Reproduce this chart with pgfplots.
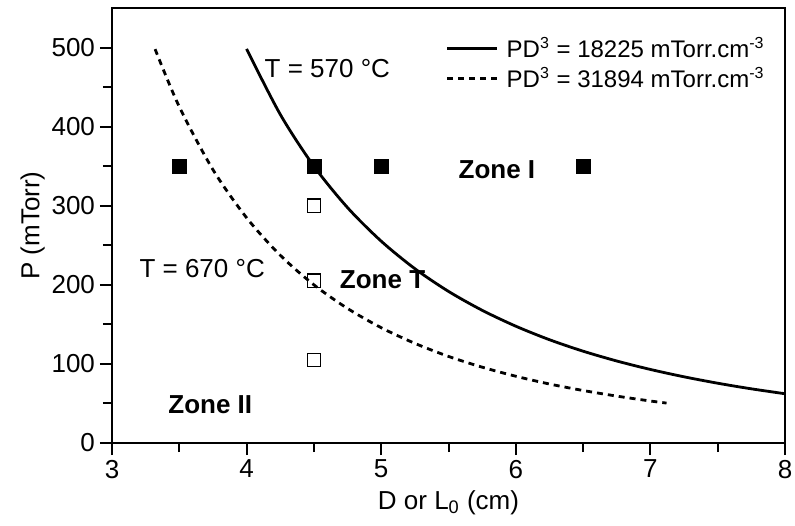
\documentclass[border=0pt]{standalone}
\usepackage{pgfplots}
\pgfplotsset{compat=1.18}
\usepackage{fontspec}
\setmainfont{Liberation Sans}

% Solid curve: PD^3 = 31894 (values in mTorr, D in cm)
\pgfplotstableread{
D     P
4.00  498.3
4.25  415.5
4.50  350.0
4.75  297.6
5.00  255.2
5.25  220.4
5.50  191.7
5.75  167.8
6.00  147.7
6.25  130.6
6.50  116.1
6.75  103.7
7.00  93.0
7.25  83.7
7.50  75.6
7.75  68.5
8.00  62.3
}\curveA
% Dashed curve: PD^3 = 18225
\pgfplotstableread{
D     P
3.32  498.0
3.50  425.1
3.75  345.6
4.00  284.8
4.25  237.4
4.50  200.0
4.75  170.1
5.00  145.8
5.25  126.0
5.50  109.5
5.75  95.9
6.00  84.4
6.25  74.6
6.50  66.4
6.75  59.3
7.00  53.1
7.12  50.5
}\curveB

\newcommand\lbl{\fontsize{13}{15}\selectfont}

\begin{document}
\begin{tikzpicture}
\useasboundingbox (-56pt,-41pt) rectangle (341.5pt,221.5pt);
\begin{axis}[
  scale only axis, width=336.5pt, height=217.5pt,
  xmin=3, xmax=8, ymin=0, ymax=550,
  xtick={3,4,5,6,7,8}, ytick={0,100,200,300,400,500},
  minor xtick={3.5,4.5,5.5,6.5,7.5},
  minor ytick={50,150,250,350,450},
  tick align=outside, major tick length=6pt, minor tick length=4.5pt,
  xtick pos=bottom, ytick pos=left,
  axis line style={line width=1pt},
  every tick/.style={black, line width=1pt},
  /pgf/number format/assume math mode=true,
  tick label style={font=\lbl},
  xticklabel style={yshift=1pt},
  yticklabel style={xshift=1pt},
  xlabel={D or L\textsubscript{0} (cm)},
  ylabel={P (mTorr)},
  every axis x label/.style={at={(axis description cs:0.5,-0.137)}, anchor=center, font=\lbl},
  every axis y label/.style={at={(axis description cs:-0.118,0.5)}, rotate=90, anchor=center, font=\lbl},
  legend style={draw=none, fill=none, at={(axis description cs:1,1)}, anchor=north east,
    xshift=-5pt, yshift=-10.5pt, font=\fontsize{12}{14}\selectfont, row sep=-0.5pt},
  legend image code/.code={\draw[#1] (-1pt,0pt) -- (24pt,0pt);},
  legend cell align=left,
]
\addplot[black, line width=1.4pt, smooth] table[x=D, y=P] {\curveA};
\addlegendentry{\hspace{2pt}PD\textsuperscript{3} = 18225 mTorr.cm\textsuperscript{-3}}
\addplot[black, line width=1.4pt, smooth, dash pattern=on 3pt off 2.5pt] table[x=D, y=P] {\curveB};
\addlegendentry{\hspace{2pt}PD\textsuperscript{3} = 31894 mTorr.cm\textsuperscript{-3}}

% Deposition conditions
\addplot[only marks, mark=square*, mark size=3.5pt, black, forget plot]
  coordinates {(3.5,350) (4.5,350) (5,350) (6.5,350)};
\addplot[only marks, mark=square, mark size=3.3pt, black, line width=0.8pt, forget plot]
  coordinates {(4.5,300) (4.5,205) (4.5,105)};

\node[font=\lbl] at (axis cs:4.60,473) {T = 570 °C};
\node[font=\lbl] at (axis cs:3.67,221) {T = 670 °C};
\node[font=\lbl\bfseries] at (axis cs:5.86,345) {Zone I};
\node[font=\lbl\bfseries] at (axis cs:5.01,206) {Zone T};
\node[font=\lbl\bfseries] at (axis cs:3.73,48) {Zone II};
\end{axis}
\end{tikzpicture}
\end{document}
